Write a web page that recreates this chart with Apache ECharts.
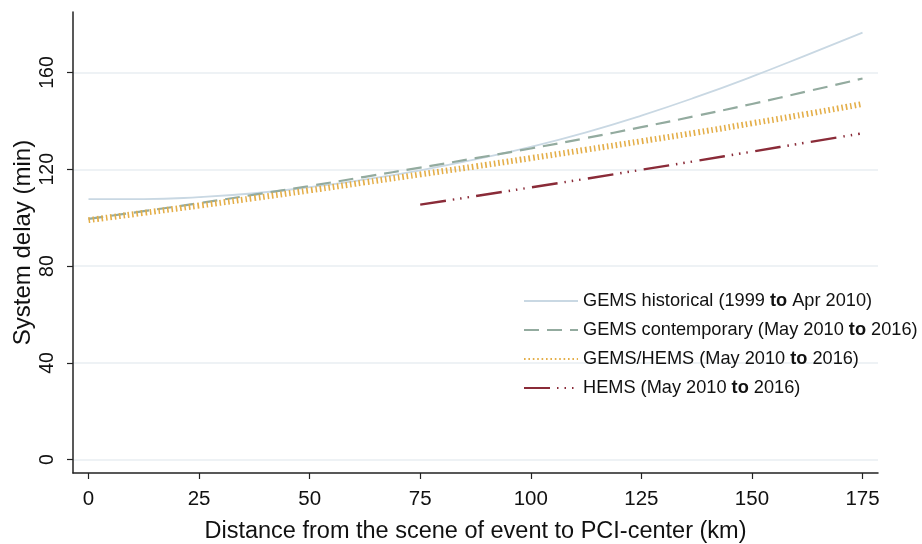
<!DOCTYPE html>
<html>
<head>
<meta charset="utf-8">
<script src="https://cdn.jsdelivr.net/npm/echarts@6/dist/echarts.min.js"></script>
<style>
html,body{margin:0;padding:0;background:#fff;}
#c{width:922px;height:544px;}
</style>
</head>
<body>
<div id="c"></div>
<script>
const distances = [0, 12.5, 25, 37.5, 50, 62.5, 75, 87.5, 100, 112.5, 125, 137.5, 150, 162.5, 175];
const gemsHistorical = [107.7, 107.7, 108.5, 110.1, 112.6, 115.8, 119.6, 124.1, 129.3, 135.3, 142.2, 149.9, 158.3, 167.3, 176.5];
const gemsContemporary = [99.5, 102.7, 106.0, 109.5, 113.1, 116.9, 120.7, 124.6, 128.6, 132.9, 137.4, 142.1, 147.0, 152.2, 157.5];
const gemsHems = [99.0, 102.0, 105.0, 108.1, 111.3, 114.6, 117.9, 121.2, 124.6, 128.1, 131.6, 135.2, 139.0, 142.9, 147.0];
const hemsDistances = [75, 87.5, 100, 112.5, 125, 137.5, 150, 162.5, 175];
const hems = [105.4, 108.9, 112.5, 116.1, 119.8, 123.5, 127.3, 131.1, 134.9];
const xTicks = [0, 25, 50, 75, 100, 125, 150, 175];
const yTicks = [0, 40, 80, 120, 160];
const seriesNames = [
  'GEMS historical (1999 to Apr 2010)',
  'GEMS contemporary (May 2010 to 2016)',
  'GEMS/HEMS (May 2010 to 2016)',
  'HEMS (May 2010 to 2016)'
];

const pair = (xs, ys) => xs.map((x, i) => [x, ys[i]]);
const FONT = '"Liberation Sans", Arial, Helvetica, sans-serif';

const chart = echarts.init(document.getElementById('c'), null, {renderer: 'canvas'});
chart.setOption({
  animation: false,
  backgroundColor: '#ffffff',
  textStyle: {fontFamily: FONT},
  grid: {left: 73, right: 44, top: 12, bottom: 71, containLabel: false, outerBoundsMode: 'none'},
  legend: {
    left: 518, top: 287, orient: 'vertical',
    itemWidth: 54, itemHeight: 18, itemGap: 11,
    data: seriesNames,
    itemStyle: {opacity: 0},
    formatter: function (n) { return n.replace(' to ', ' {b|to} '); },
    textStyle: {
      fontFamily: FONT, fontSize: 18.2, color: '#111',
      rich: {b: {fontWeight: 'bold', fontSize: 18.2, fontFamily: FONT, color: '#111'}}
    }
  },
  xAxis: {
    type: 'value', min: -3.5, max: 178.5,
    name: 'Distance from the scene of event to PCI-center (km)',
    nameLocation: 'middle', nameGap: 47, nameMoveOverlap: false,
    nameTextStyle: {fontSize: 23.5, color: '#111', fontFamily: FONT},
    axisLine: {show: true, onZero: false, lineStyle: {color: '#222', width: 1.5}},
    axisTick: {show: true, length: 6, lineStyle: {color: '#222', width: 1.2}, customValues: xTicks},
    axisLabel: {fontSize: 20.5, color: '#111', margin: 16, customValues: xTicks, fontFamily: FONT},
    splitLine: {show: false}
  },
  yAxis: {
    type: 'value', min: -5.5, max: 185,
    name: 'System delay (min)',
    nameLocation: 'middle', nameGap: 38, nameMoveOverlap: false,
    nameTextStyle: {fontSize: 24, color: '#111', fontFamily: FONT},
    axisLine: {show: true, onZero: false, lineStyle: {color: '#222', width: 1.5}},
    axisTick: {show: true, length: 6, lineStyle: {color: '#222', width: 1.2}, customValues: yTicks},
    axisLabel: {fontSize: 19.5, color: '#111', rotate: 90, margin: 15, customValues: yTicks, fontFamily: FONT},
    splitLine: {show: true, lineStyle: {color: '#e8eef2', width: 1.5}}
  },
  series: [
    {
      name: seriesNames[0], type: 'line', smooth: true, showSymbol: false, symbol: 'none',
      data: pair(distances, gemsHistorical),
      lineStyle: {color: '#c9d8e3', width: 1.8, type: 'solid'},
      itemStyle: {color: '#c9d8e3'}
    },
    {
      name: seriesNames[1], type: 'line', smooth: true, showSymbol: false, symbol: 'none',
      data: pair(distances, gemsContemporary),
      lineStyle: {color: '#93ab9f', width: 2.2, type: [15, 8]},
      itemStyle: {color: '#93ab9f'}
    },
    {
      name: seriesNames[2], type: 'line', smooth: true, showSymbol: false, symbol: 'none',
      data: pair(distances, gemsHems),
      lineStyle: {color: '#e4ae48', width: 6, type: [1.6, 2.8]},
      itemStyle: {color: '#e4ae48'}
    },
    {
      name: seriesNames[3], type: 'line', smooth: true, showSymbol: false, symbol: 'none',
      data: pair(hemsDistances, hems),
      lineStyle: {color: '#8a2b38', width: 2.4, type: [26, 7, 1.5, 6, 1.5, 6, 1.5, 7]},
      itemStyle: {color: '#8a2b38'}
    }
  ]
});
</script>
</body>
</html>
